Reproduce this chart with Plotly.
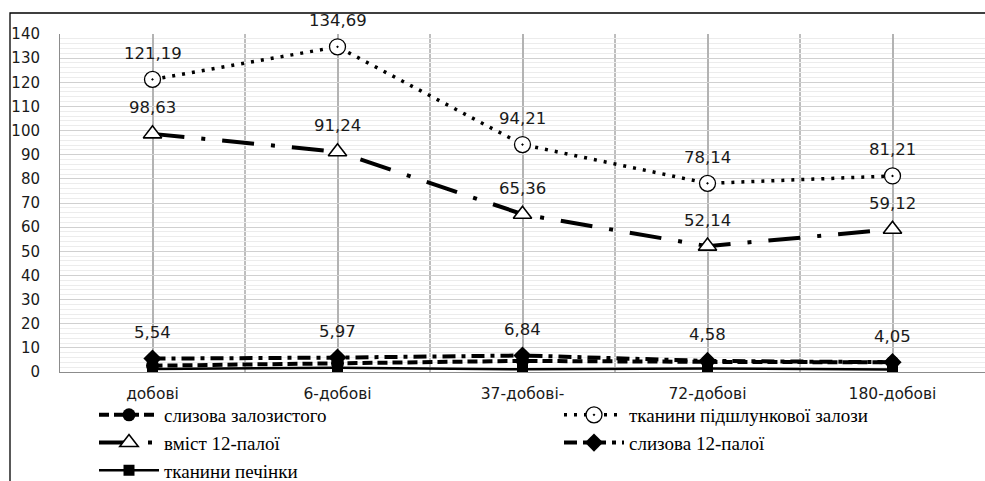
import plotly.graph_objects as go

# Categories (age groups) and series values
categories = ["добові", "6-добові", "37-добові-", "72-добові", "180-добові"]

slyzova_zalozystoho = [2.6, 3.6, 4.6, 4.2, 4.0]
pidshlunkova = [121.19, 134.69, 94.21, 78.14, 81.21]
vmist_12_paloi = [98.63, 91.24, 65.36, 52.14, 59.12]
slyzova_12_paloi = [5.54, 5.97, 6.84, 4.58, 4.05]
pechinka = [1.2, 1.8, 1.1, 1.5, 1.0]

labelled_series = [pidshlunkova, vmist_12_paloi, slyzova_12_paloi]

W, H = 985, 481
ML, MR, MT, MB = 60, 0, 34, 109
PW, PH = W - ML - MR, H - MT - MB


def px_x(p):
    return (p - ML) / PW


def px_y(p):
    return (H - MB - p) / PH


fig = go.Figure()

fig.add_trace(go.Scatter(
    x=categories, y=slyzova_zalozystoho, name="слизова залозистого",
    mode="lines+markers", legend="legend",
    line=dict(color="black", width=4, dash="10px,5px"),
    marker=dict(symbol="circle", size=13, color="black"),
))
fig.add_trace(go.Scatter(
    x=categories, y=pidshlunkova, name="тканини підшлункової залози",
    mode="lines+markers", legend="legend2",
    line=dict(color="black", width=3.5, dash="3px,7px"),
    marker=dict(symbol="circle-dot", size=16, color="white",
                line=dict(color="black", width=1.3)),
))
fig.add_trace(go.Scatter(
    x=categories, y=vmist_12_paloi, name="вміст 12-палої",
    mode="lines+markers", legend="legend",
    line=dict(color="black", width=4, dash="32px,17px,4px,17px"),
    marker=dict(symbol="triangle-up", size=16, color="white",
                line=dict(color="black", width=1.6)),
))
fig.add_trace(go.Scatter(
    x=categories, y=slyzova_12_paloi, name="слизова 12-палої",
    mode="lines+markers", legend="legend2",
    line=dict(color="black", width=4, dash="13px,6px,4px,6px"),
    marker=dict(symbol="diamond", size=14, color="black"),
))
fig.add_trace(go.Scatter(
    x=categories, y=pechinka, name="тканини печінки",
    mode="lines+markers", legend="legend",
    line=dict(color="black", width=2.5),
    marker=dict(symbol="square", size=11, color="black"),
))

# Value labels above the points
for series in labelled_series:
    for cat, v in zip(categories, series):
        fig.add_annotation(
            x=cat, y=v, text=f"{v:.2f}".replace(".", ","),
            showarrow=False, yshift=26,
            font=dict(family="DejaVu Sans", size=16.5, color="#1a1a1a"),
        )

shapes = []
# Category boundary lines
for i in range(len(categories) - 1):
    shapes.append(dict(type="line", xref="x", yref="paper",
                       x0=i + 0.5, x1=i + 0.5, y0=0, y1=1,
                       line=dict(color="#7f7f7f", width=1), layer="below"))
# Outer frame of the chart
shapes.append(dict(type="rect", xref="paper", yref="paper",
                   x0=px_x(10), x1=px_x(W + 10), y0=px_y(H + 10), y1=px_y(13),
                   line=dict(color="black", width=1.3), fillcolor="rgba(0,0,0,0)"))

legend_common = dict(
    orientation="v", yanchor="top", xanchor="left",
    font=dict(family="Liberation Serif", size=19, color="black"),
    bgcolor="rgba(0,0,0,0)", itemwidth=60, tracegroupgap=0,
    borderwidth=0,
)

fig.update_layout(
    width=W, height=H,
    margin=dict(l=ML, r=MR, t=MT, b=MB, autoexpand=False),
    paper_bgcolor="white", plot_bgcolor="white",
    shapes=shapes,
    showlegend=True,
    legend=dict(legend_common, x=px_x(94), y=px_y(396)),
    legend2=dict(legend_common, x=px_x(559), y=px_y(396)),
    xaxis=dict(
        type="category", range=[-0.5, len(categories) - 0.5],
        showgrid=True, gridcolor="#b3b3b3", gridwidth=2,
        showline=True, linecolor="#8c8c8c", linewidth=1,
        ticks="", ticklabelstandoff=7,
        tickfont=dict(family="DejaVu Sans", size=15.5, color="#1a1a1a"),
        fixedrange=True,
    ),
    yaxis=dict(
        range=[0, 140], dtick=10, tick0=0,
        showgrid=True, gridcolor="#d0d0d0", gridwidth=1,
        minor=dict(dtick=2, showgrid=True, gridcolor="#ececec", gridwidth=1),
        showline=True, linecolor="#8c8c8c", linewidth=1,
        zeroline=False, ticks="", ticklabelstandoff=16,
        tickfont=dict(family="DejaVu Sans", size=15, color="#1a1a1a"),
        fixedrange=True,
    ),
)

fig.write_html("out.html")
